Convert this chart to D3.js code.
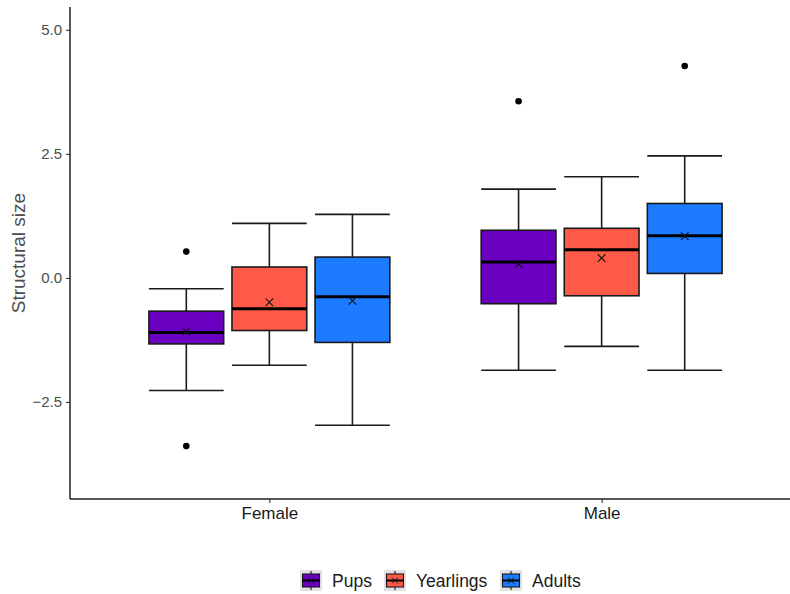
<!DOCTYPE html>
<html>
<head>
<meta charset="utf-8">
<script src="https://cdn.jsdelivr.net/npm/d3@7"></script>
<style>
  html, body { margin: 0; padding: 0; background: #fff; }
  svg { display: block; font-family: "Liberation Sans", Arial, sans-serif; }
</style>
</head>
<body>
<svg id="chart" width="790" height="594"></svg>
<script>
// Sex categories on the x axis and age groups dodged within them
const sexes = ["Female", "Male"];
const ageGroups = ["Pups", "Yearlings", "Adults"];
const groupColors = ["#6A00C0", "#FF5A47", "#1C7BFF"];

// Five-number summaries per box, ordered [Female Pups, Female Yearlings, Female Adults, Male Pups, Male Yearlings, Male Adults]
const whiskerLow  = [-2.27, -1.76, -2.97, -1.86, -1.38, -1.86];
const q1          = [-1.33, -1.06, -1.30, -0.52, -0.36,  0.09];
const medians     = [-1.10, -0.62, -0.38,  0.32,  0.57,  0.85];
const q3          = [-0.67,  0.22,  0.42,  0.96,  1.00,  1.50];
const whiskerHigh = [-0.22,  1.10,  1.28,  1.79,  2.04,  2.46];
const means       = [-1.08, -0.49, -0.46,  0.28,  0.40,  0.84];
// Outlying points per box
const outliers    = [[0.53, -3.39], [], [], [3.56], [], [4.27]];

const yTicks = [-2.5, 0, 2.5, 5];

const svg = d3.select("#chart");
const FONT = "Liberation Sans, Arial, sans-serif";

// Continuous positions for the discrete sexes (1, 2) with ggplot-style padding
const x = d3.scaleLinear().domain([0.4, 2.6]).range([70, 801]);
const y = d3.scaleLinear().domain([-4.456, 5.46]).range([499, 7]);

const dodge = 0.25;      // spacing between dodged boxes, in category units
const boxW = 0.225;      // box width, in category units

const boxes = [];
sexes.forEach((s, si) => {
  ageGroups.forEach((g, gi) => {
    const i = si * ageGroups.length + gi;
    boxes.push({
      sex: s, group: g, color: groupColors[gi],
      center: (si + 1) + (gi - 1) * dodge,
      lo: whiskerLow[i], q1: q1[i], med: medians[i], q3: q3[i], hi: whiskerHigh[i],
      mean: means[i], out: outliers[i]
    });
  });
});

const lineCol = "#1a1a1a";
const lw = 1.6;
const plot = svg.append("g");

const bg = plot.selectAll("g.box").data(boxes).join("g").attr("class", "box");

bg.each(function(d) {
  const g = d3.select(this);
  const x0 = x(d.center - boxW / 2), x1 = x(d.center + boxW / 2), xc = x(d.center);
  // Whisker caps and stems
  [d.lo, d.hi].forEach(v => {
    g.append("line").attr("x1", x0).attr("x2", x1).attr("y1", y(v)).attr("y2", y(v))
      .attr("stroke", lineCol).attr("stroke-width", lw);
  });
  g.append("line").attr("x1", xc).attr("x2", xc).attr("y1", y(d.hi)).attr("y2", y(d.q3))
    .attr("stroke", lineCol).attr("stroke-width", lw);
  g.append("line").attr("x1", xc).attr("x2", xc).attr("y1", y(d.q1)).attr("y2", y(d.lo))
    .attr("stroke", lineCol).attr("stroke-width", lw);
  // Box
  g.append("rect").attr("x", x0).attr("width", x1 - x0)
    .attr("y", y(d.q3)).attr("height", y(d.q1) - y(d.q3))
    .attr("fill", d.color).attr("stroke", lineCol).attr("stroke-width", lw);
  // Median
  g.append("line").attr("x1", x0).attr("x2", x1).attr("y1", y(d.med)).attr("y2", y(d.med))
    .attr("stroke", "#000").attr("stroke-width", 3);
  // Mean marker (cross)
  const my = y(d.mean), s = 3.8;
  g.append("path").attr("d", `M${xc - s},${my - s}L${xc + s},${my + s}M${xc - s},${my + s}L${xc + s},${my - s}`)
    .attr("stroke", "#111").attr("stroke-width", 1.1).attr("fill", "none");
  // Outliers
  d.out.forEach(v => {
    g.append("circle").attr("cx", xc).attr("cy", y(v)).attr("r", 3.3).attr("fill", "#000");
  });
});

// Axes
const yAxis = d3.axisLeft(y).tickValues(yTicks).tickFormat(d3.format(".1f")).tickSize(4).tickPadding(4);
const gy = svg.append("g").attr("transform", `translate(${x(0.4)},0)`).call(yAxis);
gy.select(".domain").attr("stroke", "#222").attr("stroke-width", 1.5).attr("d", `M0,${y(5.46)}V${y(-4.456)}`);
gy.selectAll(".tick line").attr("stroke", "#333").attr("stroke-width", 1.1);
gy.selectAll(".tick text").attr("fill", "#4D4D4D").style("font-size", "15px").attr("font-family", FONT);

const xAxis = d3.axisBottom(x).tickValues([1, 2]).tickFormat((d) => sexes[d - 1]).tickSize(4).tickPadding(4);
const gx = svg.append("g").attr("transform", `translate(0,${y(-4.456)})`).call(xAxis);
gx.select(".domain").attr("stroke", "#222").attr("stroke-width", 1.5).attr("d", `M${x(0.4)},0H${x(2.6)}`);
gx.selectAll(".tick line").attr("stroke", "#333").attr("stroke-width", 1.1);
gx.selectAll(".tick text").attr("fill", "#1a1a1a").style("font-size", "17px").attr("font-family", FONT);

// Y axis title
svg.append("text")
  .attr("transform", `translate(25,${y(0.5)}) rotate(-90)`)
  .attr("text-anchor", "middle")
  .attr("fill", "#4D4D4D")
  .style("font-size", "19px")
  .text("Structural size");

// Legend
const legendX = [300, 384, 500];
const lg = svg.append("g").selectAll("g").data(ageGroups).join("g")
  .attr("transform", (d, i) => `translate(${legendX[i]},570)`);
lg.append("rect").attr("width", 22).attr("height", 21).attr("fill", "#E2E2E2");
lg.append("line").attr("x1", 11).attr("x2", 11).attr("y1", 1).attr("y2", 20)
  .attr("stroke", lineCol).attr("stroke-width", 1.1);
lg.append("rect").attr("x", 2.5).attr("y", 4).attr("width", 17).attr("height", 13)
  .attr("fill", (d, i) => groupColors[i]).attr("stroke", lineCol).attr("stroke-width", 1.1);
lg.append("line").attr("x1", 2.5).attr("x2", 19.5).attr("y1", 10.5).attr("y2", 10.5)
  .attr("stroke", "#000").attr("stroke-width", 2);
lg.append("path").attr("d", "M8,7.5L14,13.5M8,13.5L14,7.5").attr("stroke", "#111").attr("stroke-width", 1).attr("fill", "none");
lg.append("text").attr("x", 32).attr("y", 16.5).attr("fill", "#1a1a1a").style("font-size", "17.5px")
  .text(d => d);
</script>
</body>
</html>
